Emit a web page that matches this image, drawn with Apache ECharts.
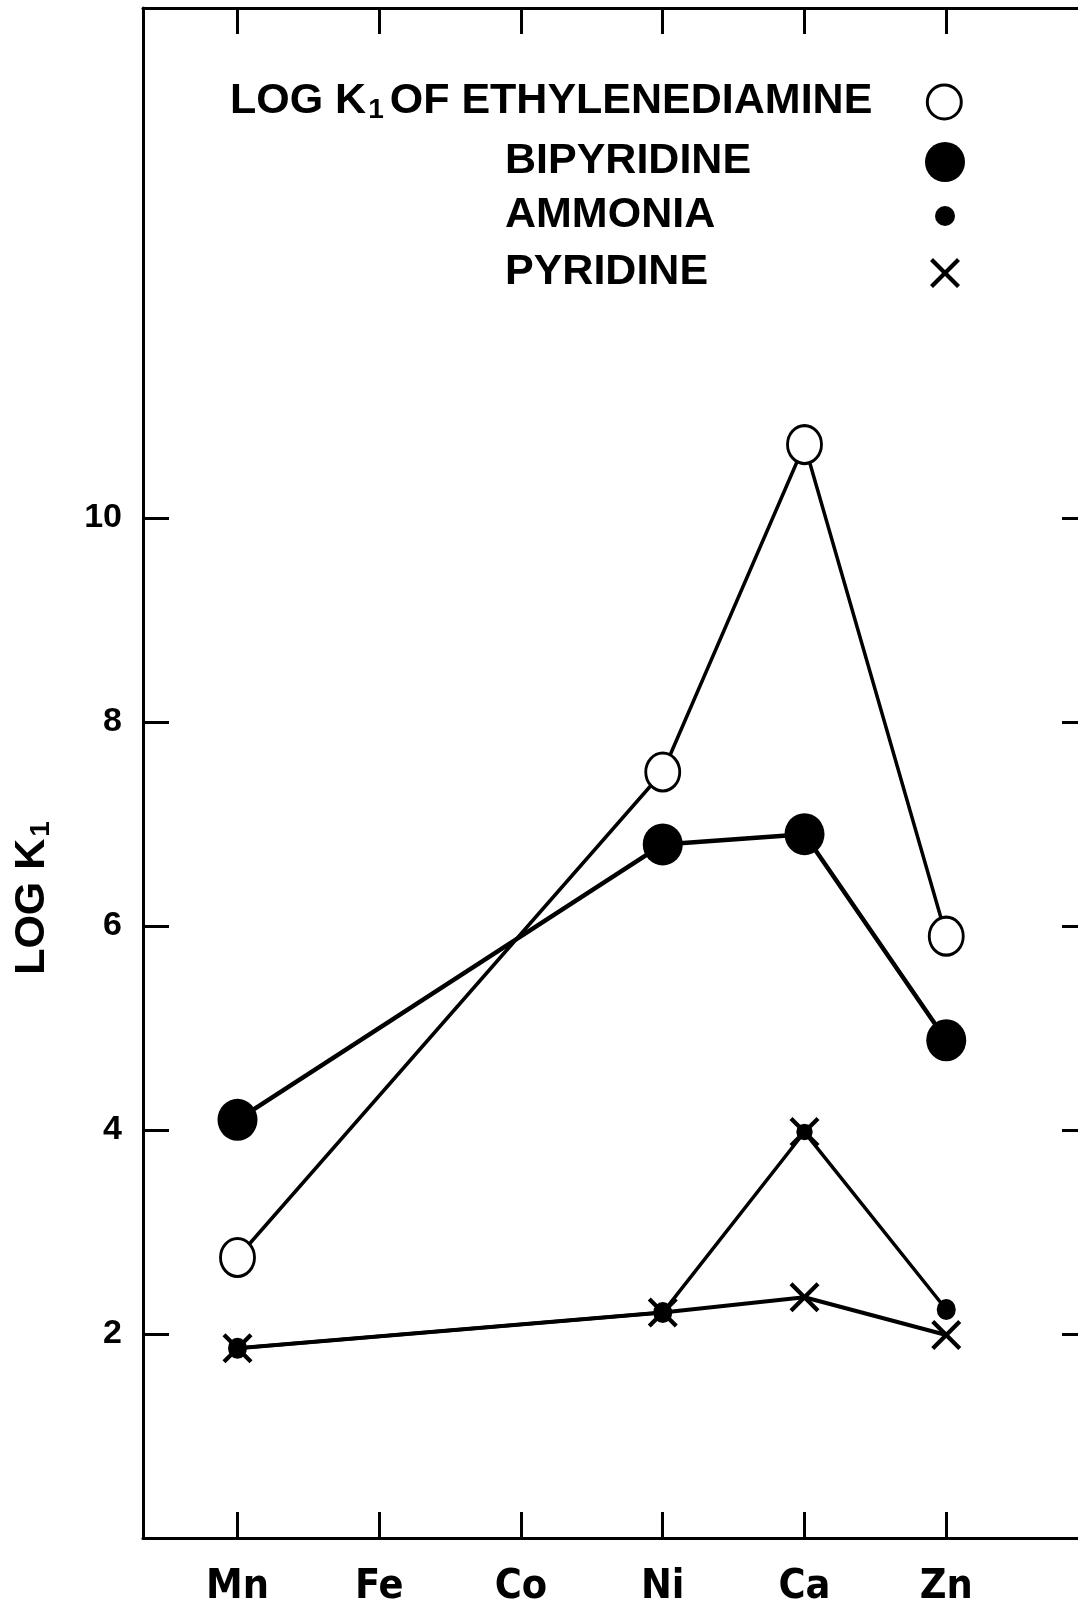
<!DOCTYPE html>
<html><head><meta charset="utf-8">
<script src="https://cdn.jsdelivr.net/npm/echarts@6/dist/echarts.min.js"></script>
<style>html,body{margin:0;padding:0;background:#fff}#c{width:1078px;height:1605px}</style>
</head><body><div id="c"></div>
<script>
// ---- data ----
const categories = ['Mn', 'Fe', 'Co', 'Ni', 'Ca', 'Zn'];
const ethylenediamine = [2.75, null, null, 7.51, 10.72, 5.90];
const bipyridine = [4.10, null, null, 6.80, 6.90, 4.88];
const ammonia = [1.86, null, null, 2.21, 3.98, 2.24];
const pyridine = [1.86, null, null, 2.21, 2.36, 1.99];
const yTicks = [2, 4, 6, 8, 10];
const seriesNames = ['ETHYLENEDIAMINE', 'BIPYRIDINE', 'AMMONIA', 'PYRIDINE'];
// point of the ammonia series that is drawn with a crossed dot in the original
const ammoniaCrossed = ['Ca'];

const xPos = categories.map((c, i) => i + 1);
const X_PATH = 'path://M0,2L2,0L10,8L18,0L20,2L12,10L20,18L18,20L10,12L2,20L0,18L8,10Z';
const XDOT_PATH = 'path://M0,2L2,0L10,8L18,0L20,2L12,10L20,18L18,20L10,12L2,20L0,18L8,10Z' +
  'M15.5,10L14.8,12.8L12.8,14.8L10,15.5L7.2,14.8L5.2,12.8L4.5,10L5.2,7.2L7.2,5.2L10,4.5L12.8,5.2L14.8,7.2Z';
function pts(arr, crossed) {
  return arr.map((v, i) => {
    if (v == null) return null;
    if (crossed && crossed.indexOf(categories[i]) >= 0) {
      return { value: [xPos[i], v], symbol: XDOT_PATH, symbolSize: [30, 30] };
    }
    return [xPos[i], v];
  }).filter(p => p);
}
const FONT = '"Liberation Sans", Arial, sans-serif';
const NARROW = '"Liberation Sans Narrow", "DejaVu Sans Condensed", "Liberation Sans", sans-serif';
const K = '#000';

const axisLine = { show: true, onZero: false, lineStyle: { color: K, width: 3 } };
const tick = (vals) => ({ show: true, inside: true, length: 26, lineStyle: { color: K, width: 3 }, customValues: vals });

const richA = { fontFamily: FONT, fontWeight: 'bold', fontSize: 43, lineHeight: 44, verticalAlign: 'top', color: K };
const richS = { fontFamily: FONT, fontWeight: 'bold', fontSize: 28, lineHeight: 26, verticalAlign: 'bottom', padding: [36, 6, 0, 2], color: K };

function legend(name, left, top, w, h, icon, itemStyle, fmt, rich) {
  return {
    selectedMode: false, orient: 'horizontal', align: 'right', padding: 0, itemGap: 0,
    left: left, top: top, itemWidth: w, itemHeight: h,
    data: [{ name: name, icon: icon, itemStyle: itemStyle }],
    formatter: fmt,
    textStyle: { color: K, fontFamily: FONT, fontWeight: 'bold', fontSize: 43, lineHeight: 44, rich: rich }
  };
}
function fixedLegend(name, left, top, w, h, icon, itemStyle) {
  const textW = 945 - w / 2 - 5 - left;
  return legend(name, left, top, w, h, icon, itemStyle, n => '{t|' + n + '}',
    { t: Object.assign({}, richA, { width: textW, align: 'left' }) });
}

const chart = echarts.init(document.getElementById('c'), null, { renderer: 'canvas' });
chart.setOption({
  backgroundColor: '#fff',
  animation: false,
  grid: { left: 143, top: 8, width: 945, height: 1530, containLabel: false, outerBoundsMode: 'none' },
  xAxis: [
    {
      type: 'value', min: 1 / 3, max: 7, position: 'bottom',
      axisLine: axisLine, axisTick: tick(xPos), splitLine: { show: false },
      axisLabel: {
        customValues: xPos, formatter: v => categories[Math.round(v) - 1] || '',
        color: K, fontFamily: NARROW, fontWeight: 'bold', fontSize: 41, margin: 29
      }
    },
    {
      type: 'value', min: 1 / 3, max: 7, position: 'top',
      axisLine: axisLine, axisTick: tick(xPos), splitLine: { show: false },
      axisLabel: { show: false }
    }
  ],
  yAxis: [
    {
      type: 'value', min: 0, max: 15, position: 'left',
      axisLine: axisLine, axisTick: tick(yTicks), splitLine: { show: false },
      axisLabel: { customValues: yTicks, color: K, fontFamily: FONT, fontWeight: 'bold', fontSize: 34, margin: 21 },
      name: '{a|LOG K}{s|1}', nameLocation: 'middle', nameGap: 88,
      nameTextStyle: { padding: [0, 244, 0, 0], rich: { a: richA, s: richS } }
    },
    {
      type: 'value', min: 0, max: 15, position: 'right',
      axisLine: axisLine, axisTick: tick(yTicks), splitLine: { show: false },
      axisLabel: { show: false }
    }
  ],
  legend: [
    legend(seriesNames[0], 230, 60, 34, 38, 'circle', { color: '#fff', borderColor: K, borderWidth: 3 },
      n => '{a|LOG K}{s|1}{e|OF ' + n + '}',
      { a: richA, s: richS, e: Object.assign({}, richA, { padding: [0, 50, 0, 0] }) }),
    fixedLegend(seriesNames[1], 505, 140, 40, 42, 'circle', { color: K, borderWidth: 0 }),
    fixedLegend(seriesNames[2], 505, 194, 20, 22, 'circle', { color: K, borderWidth: 0 }),
    fixedLegend(seriesNames[3], 505, 251, 32, 30, X_PATH, { color: K, borderWidth: 0 })
  ],
  series: [
    {
      name: seriesNames[0], type: 'line', data: pts(ethylenediamine), silent: true, z: 3,
      symbol: 'circle', symbolSize: [34, 38],
      itemStyle: { color: '#fff', borderColor: K, borderWidth: 3 },
      lineStyle: { color: K, width: 3.5 }
    },
    {
      name: seriesNames[1], type: 'line', data: pts(bipyridine), silent: true, z: 3,
      symbol: 'circle', symbolSize: [40, 42],
      itemStyle: { color: K, borderWidth: 0 },
      lineStyle: { color: K, width: 4.5 }
    },
    {
      name: seriesNames[2], type: 'line', data: pts(ammonia, ammoniaCrossed), silent: true, z: 3,
      symbol: 'circle', symbolSize: [19, 21],
      itemStyle: { color: K, borderWidth: 0 },
      lineStyle: { color: K, width: 3.5 }
    },
    {
      name: seriesNames[3], type: 'line', data: pts(pyridine), silent: true, z: 4,
      symbol: X_PATH, symbolSize: [30, 30], symbolKeepAspect: true,
      itemStyle: { color: K, borderWidth: 0 },
      lineStyle: { color: K, width: 4 }
    }
  ]
});
</script></body></html>
